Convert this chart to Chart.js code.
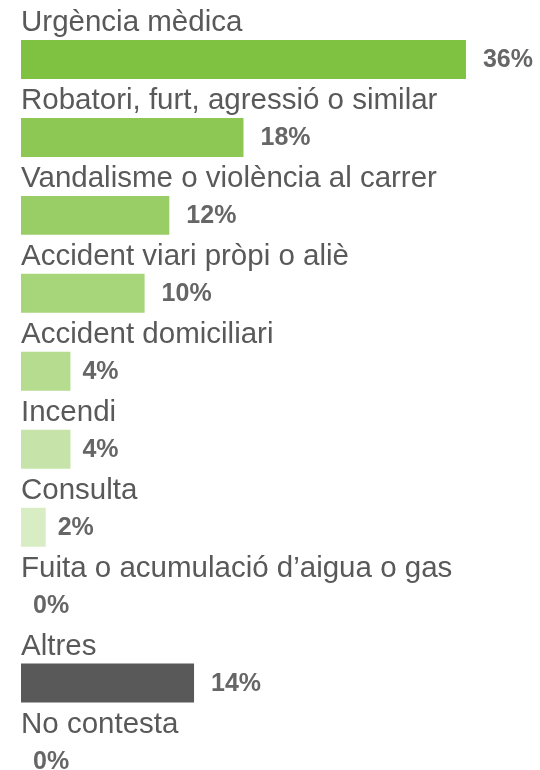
<!DOCTYPE html>
<html>
<head>
<meta charset="utf-8">
<script src="https://cdn.jsdelivr.net/npm/chart.js@4.4.0/dist/chart.umd.min.js"></script>
<style>
  html, body { margin: 0; padding: 0; background: #fff; overflow: hidden; }
  #wrap { width: 540px; height: 800px; position: relative; }
</style>
</head>
<body>
<div id="wrap"><canvas id="myChart"></canvas></div>
<script>
// 1. Data
const categories = [
    "Urgència mèdica",
    "Robatori, furt, agressió o similar",
    "Vandalisme o violència al carrer",
    "Accident viari pròpi o aliè",
    "Accident domiciliari",
    "Incendi",
    "Consulta",
    "Fuita o acumulació d\u2019aigua o gas",
    "Altres",
    "No contesta"
];
const values = [36, 18, 12, 10, 4, 4, 2, 0, 14, 0];
const barColors = [
    "#7fc241", "#8cc853", "#99ce66", "#a7d57a", "#b5dc8f",
    "#c6e4a9", "#d8edc4", "#e2f1d4", "#595959", "#595959"
];

// 2. Labels above bars + values at bar ends
const labelPlugin = {
    id: "rowLabels",
    afterDatasetsDraw(chart) {
        const ctx = chart.ctx;
        const meta = chart.getDatasetMeta(0);
        ctx.save();
        meta.data.forEach((bar, i) => {
            const top = bar.y - bar.height / 2;
            // category label
            ctx.font = "29.5px 'Liberation Sans', Arial, sans-serif";
            ctx.fillStyle = "#595959";
            ctx.textAlign = "left";
            ctx.textBaseline = "alphabetic";
            ctx.fillText(categories[i], 21, top - 9);
            // value label
            const v = values[i];
            const gap = v >= 10 ? 17 : 12;
            ctx.font = "bold 25px 'Liberation Sans', Arial, sans-serif";
            ctx.fillStyle = "#666666";
            ctx.textBaseline = "middle";
            ctx.fillText(v + "%", bar.x + gap, bar.y + 1);
        });
        ctx.restore();
    }
};

// 3. Chart
new Chart(document.getElementById("myChart"), {
    type: "bar",
    data: {
        labels: categories,
        datasets: [{
            data: values,
            backgroundColor: barColors,
            borderWidth: 0,
            barPercentage: 0.5,
            categoryPercentage: 1.0
        }]
    },
    options: {
        indexAxis: "y",
        responsive: true,
        maintainAspectRatio: false,
        animation: false,
        layout: { padding: { left: 21, right: 24.6, top: 20.5, bottom: 0 } },
        plugins: {
            legend: { display: false },
            tooltip: { enabled: false }
        },
        scales: {
            x: { display: false, min: 0, max: 40 },
            y: { display: false }
        }
    },
    plugins: [labelPlugin]
});
</script>
</body>
</html>
